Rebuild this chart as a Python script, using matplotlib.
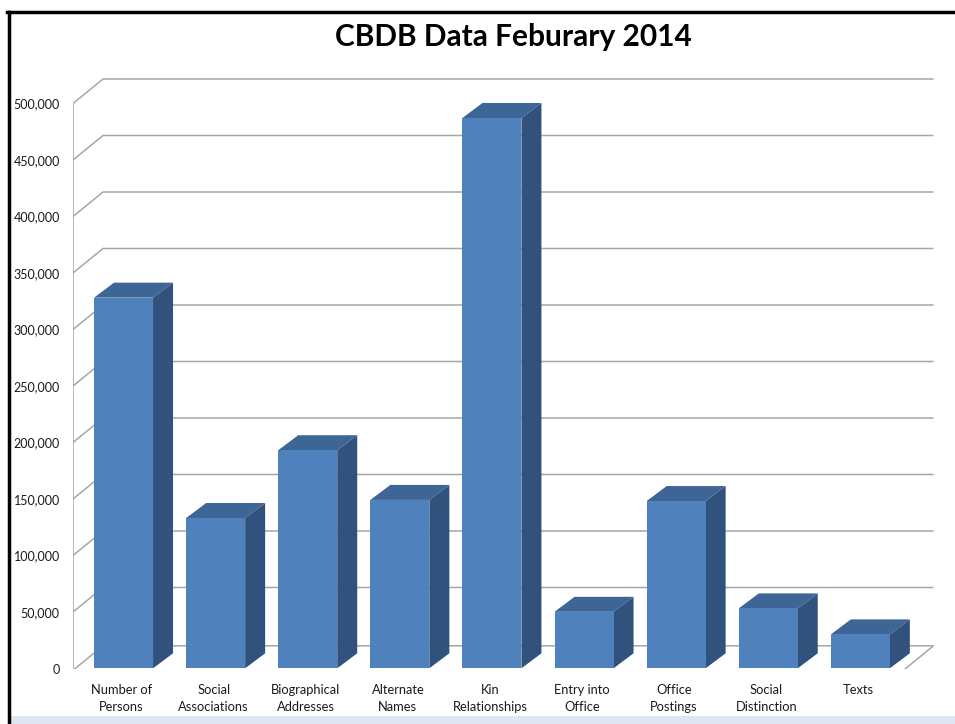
import matplotlib
matplotlib.use('Agg')
import matplotlib.pyplot as plt
from matplotlib.patches import Polygon, Rectangle
from matplotlib.lines import Line2D
from matplotlib.ticker import FuncFormatter

categories = ['Number of\nPersons', 'Social\nAssociations', 'Biographical\nAddresses',
              'Alternate\nNames', 'Kin\nRelationships', 'Entry into\nOffice',
              'Office\nPostings', 'Social\nDistinction', 'Texts']
values = [328000, 133000, 193000, 149000, 487000, 50000, 148000, 53000, 30000]
y_ticks = list(range(0, 500001, 50000))
title = 'CBDB Data Feburary 2014'

plt.rcParams['font.family'] = ['Lato', 'DejaVu Sans']

W, H = 955, 724
fig = plt.figure(figsize=(W / 100, H / 100), dpi=100)

# front plane of the 3-D box, in pixels
px_left, px_zero, px_right = 73, 668.5, 945
px_per_cat = 92.1
px_per_val = 56.5 / 50000

ax = fig.add_axes([px_left / W, (H - px_zero) / H, (px_right - px_left) / W, px_zero / H])
x0 = -0.527
ax.set_xlim(x0, x0 + (px_right - px_left) / px_per_cat)
ax.set_ylim(0, px_zero / px_per_val)

# oblique depth of the walls and of the bars
wall_dx, wall_dy = 30 / px_per_cat, 24.5 / px_per_val
x1 = 8.49
bw = 59 / px_per_cat
bx0, by0 = 2 / px_per_cat, 0.2 / px_per_val
bdx, bdy = 20 / px_per_cat, 15 / px_per_val
floor_drop = 1.8 / px_per_val

grid_kw = dict(color='#a6a6a6', lw=1.1, zorder=1, solid_capstyle='butt')
for v in y_ticks[1:]:
    ax.plot([x0, x0 + wall_dx, x1 + wall_dx], [v, v + wall_dy, v + wall_dy], **grid_kw)
ax.plot([x0, x0 + wall_dx, x1 + wall_dx], [-floor_drop, wall_dy - floor_drop, wall_dy - floor_drop],
        **grid_kw)
ax.plot([x0, x1, x1 + wall_dx], [-floor_drop, -floor_drop, wall_dy - floor_drop], **grid_kw)
ax.plot([x0, x0], [-floor_drop, y_ticks[-1]], **grid_kw)

front_c, top_c, side_c = '#4f81bd', '#3d6595', '#30527d'
for i, v in enumerate(values):
    l = i + bx0 - bw / 2
    r = l + bw
    b = by0
    t = by0 + v
    ax.add_patch(Polygon([(r, b), (r + bdx, b + bdy), (r + bdx, t + bdy), (r, t)],
                         closed=True, fc=side_c, ec='none', zorder=3))
    ax.add_patch(Polygon([(l, t), (r, t), (r + bdx, t + bdy), (l + bdx, t + bdy)],
                         closed=True, fc=top_c, ec='none', zorder=3))
    ax.add_patch(Rectangle((l, b), bw, v, fc=front_c, ec='none', zorder=4))

ax.set_yticks(y_ticks)
ax.yaxis.set_major_formatter(FuncFormatter(lambda v, p: f'{int(v):,}'))
ax.set_xticks(range(len(categories)))
ax.set_xticklabels(categories, linespacing=1.5, va='top')
ax.tick_params(axis='y', length=0, pad=9.5, labelsize=9, labelcolor='#1a1a1a')
ax.tick_params(axis='x', length=0, pad=11.5, labelsize=9.3, labelcolor='#1a1a1a')
for s in ax.spines.values():
    s.set_visible(False)
ax.patch.set_visible(False)

fig.text(513 / W, 1 - 37 / H, title, ha='center', va='center', fontsize=21.5, fontweight='bold')

# frame of the slide
fig.add_artist(Rectangle((10 / W, 0), 1, 8 / H, transform=fig.transFigure,
                         fc='#dfe6f1', ec='none'))
fig.add_artist(Line2D([8.5 / W, 8.5 / W], [0, 1 - 12 / H], color='black', lw=2.5,
                      transform=fig.transFigure))
fig.add_artist(Line2D([7 / W, 1], [1 - 12 / H, 1 - 12 / H], color='black', lw=2.5,
                      transform=fig.transFigure))

fig.savefig('out.png', dpi=100)
